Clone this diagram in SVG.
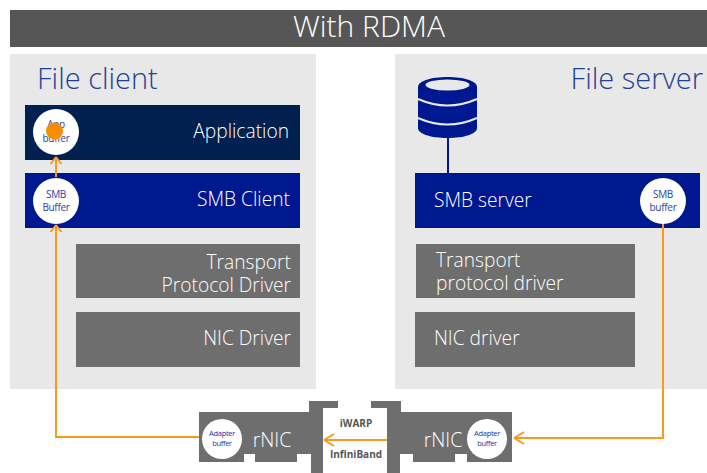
<svg xmlns="http://www.w3.org/2000/svg" width="707" height="473" viewBox="0 0 707 473">
<style>
text{font-family:"Open Sans","Noto Sans","Liberation Sans",sans-serif;font-weight:300}
.l{font-size:19.2px;fill:#fff}
.n{font-size:19.5px;fill:#fff;text-anchor:middle}
.h{font-size:29px;fill:#1f3f94}
.b{font-size:10px;fill:#2a3fa8;font-weight:400;text-anchor:middle;letter-spacing:-.3px}
.a{font-size:7.5px;fill:#1a2fa8;font-weight:400;text-anchor:middle;letter-spacing:-.3px}
.p{font-size:10px;font-weight:700;fill:#555;text-anchor:middle}
.g{fill:#6e6e6e}
.c{fill:#fff}
.o{fill:none;stroke:#fb981e;stroke-width:2}
.e{text-anchor:end}
</style>
<rect x="0" y="0" width="707" height="473" fill="#fff"/>
<g id="title"><rect x="10" y="10" width="697" height="37" fill="#565656"/><text x="369" y="37" text-anchor="middle" style="font-size:30px" fill="#fff">With RDMA</text></g>
<g id="file-client"><rect x="10" y="54" width="306" height="335" fill="#e8e8e8"/><text x="37" y="89" class="h">File client</text></g>
<g id="file-server"><rect x="395" y="54" width="312" height="335" fill="#e8e8e8"/><text x="703" y="89" class="h e">File server</text></g>
<g id="application"><rect x="25" y="105" width="275" height="55" fill="#002050"/><text x="289" y="138" class="l e">Application</text></g>
<g id="smb-client"><rect x="25" y="173" width="275" height="55" fill="#00188f"/><text x="290" y="206" class="l e">SMB Client</text></g>
<g id="transport-client"><rect x="76" y="244" width="224" height="54" class="g"/><text x="291" y="269" class="l e">Transport</text><text x="291" y="292" class="l e">Protocol Driver</text></g>
<g id="nic-client"><rect x="76" y="312" width="224" height="55" class="g"/><text x="291" y="345" class="l e">NIC Driver</text></g>
<g id="smb-server"><rect x="415" y="173" width="285" height="55" fill="#00188f"/><text x="434" y="207" class="l">SMB server</text></g>
<g id="transport-server"><rect x="416" y="244" width="219" height="54" class="g"/><text x="436" y="267" class="l">Transport</text><text x="436" y="290" class="l">protocol driver</text></g>
<g id="nic-server"><rect x="415" y="312" width="220" height="55" class="g"/><text x="434" y="345" class="l">NIC driver</text></g>
<g id="database"><path d="M418 87c0-6 13-10 29.500-10s29.500 4 29.500 10v41c0 6-13 10-29.500 10s-29.500-4-29.500-10z" fill="#00188f"/><ellipse cx="447.500" cy="85" rx="22" ry="5.500" fill="#e8e8e8"/><path d="M418 99q29.500 13 59 0M418 118q29.500 13 59 0" fill="none" stroke="#e8e8e8" stroke-width="2"/></g>
<g id="nic-left"><path class="g" d="M199 412H309V401H338V408H323V473H311V454H297V462H255V454H244V462H199Z"/><text x="272" y="447" class="n">rNIC</text></g>
<g id="nic-right"><path class="g" d="M512 412H401V401H371V408H387V473H400V454H413V462H455V454H467V462H512Z"/><text x="443" y="447" class="n">rNIC</text></g>
<g id="connectors">
<path d="M448 138V173" fill="none" stroke="#00188f" stroke-width="2"/>
<path class="o" d="M56 177V157M56 157l-5.500 7M56 157l5.500 7"/>
<path class="o" d="M56 225V437H199M56 225l-5.500 7M56 225l5.500 7"/>
<path class="o" d="M663 222V438H514M514 438l10-6M514 438l10 6"/>
<path class="o" d="M387 440H324M324 440l10-6M324 440l10 6"/>
</g>
<g id="app-buffer"><circle cx="56" cy="132" r="23" class="c"/><text x="56" y="128" class="b">App</text><text x="56" y="142" class="b">buffer</text><circle cx="54.500" cy="131" r="8.500" fill="#f78c00"/></g>
<g id="smb-buffer-client"><circle cx="56" cy="201" r="23" class="c"/><text x="56" y="198" class="b">SMB</text><text x="56" y="211" class="b">Buffer</text></g>
<g id="smb-buffer-server"><circle cx="663" cy="201" r="23" class="c"/><text x="663" y="198" class="b">SMB</text><text x="663" y="211" class="b">buffer</text></g>
<g id="adapter-left"><circle cx="222" cy="439" r="20" class="c"/><text x="222" y="436" class="a">Adapter</text><text x="222" y="446" class="a">buffer</text></g>
<g id="adapter-right"><circle cx="487" cy="439" r="20" class="c"/><text x="487" y="436" class="a">Adapter</text><text x="487" y="446" class="a">buffer</text></g>
<g id="protocols"><text x="356" y="427" class="p">iWARP</text><text x="356" y="458" class="p">InfiniBand</text></g>
</svg>
